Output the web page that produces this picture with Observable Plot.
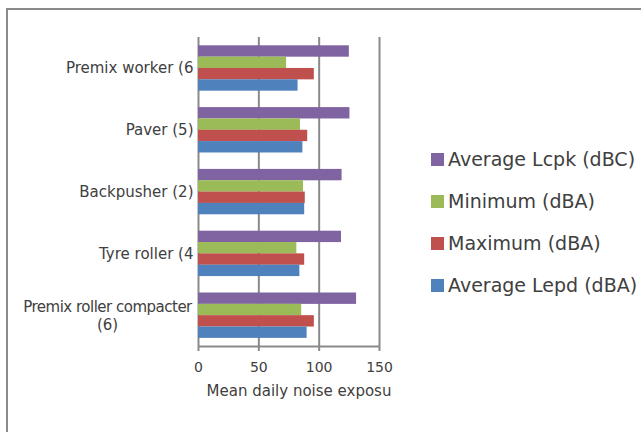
<!DOCTYPE html>
<html>
<head>
<meta charset="utf-8">
<script src="https://cdn.jsdelivr.net/npm/d3@7"></script>
<script src="https://cdn.jsdelivr.net/npm/@observablehq/plot@0.6"></script>
<style>
  html, body { margin: 0; padding: 0; background: #fff; }
  #wrap { position: relative; width: 641px; height: 432px; overflow: hidden; font-family: "DejaVu Sans", sans-serif; color: #404040; }
  #frame { position: absolute; left: 6px; top: 8px; width: 700px; height: 500px; border-left: 2px solid #8a8a8a; border-top: 2px solid #8a8a8a; box-sizing: border-box; }
  #chart { position: absolute; left: 0; top: 0; }
  #legend { position: absolute; left: 431px; top: 0; width: 209px; height: 432px; }
  .item { position: absolute; left: 0; display: flex; align-items: center; white-space: nowrap; font-size: 19px; color: #404040; height: 26px; }
  .sw { width: 13px; height: 13px; margin-right: 4px; flex: none; }
</style>
</head>
<body>
<div id="wrap">
  <div id="frame"></div>
  <div id="chart"></div>
  <div id="legend"></div>
</div>
<script>
const categories = ["Premix worker (6", "Paver (5)", "Backpusher (2)", "Tyre roller (4", "Premix roller compacter\n(6)"];
const seriesNames = ["Average Lcpk (dBC)", "Minimum (dBA)", "Maximum (dBA)", "Average Lepd (dBA)"];
const lcpk    = [125, 125.5, 119, 118.5, 131];
const minimum = [73, 84.5, 87, 81.5, 85.5];
const maximum = [96, 90.5, 88.5, 88, 96];
const lepd    = [82.5, 86.5, 88, 84, 90];
const colors  = ["#8064A2", "#9BBB59", "#C0504D", "#4F81BD"];
const xTicks  = [0, 50, 100, 150];
const xLabel  = "Mean daily noise exposu";

const seriesValues = [lcpk, minimum, maximum, lepd];
const bandH = (346 - 37.3) / categories.length;
const barH = 11.33;
const topGap = 8.3;

const barMarks = seriesValues.map((vals, i) =>
  Plot.barX(categories.map((c, j) => ({category: c, value: vals[j], series: seriesNames[i]})), {
    x: "value", y: "category", fill: colors[i],
    insetTop: topGap + i * barH,
    insetBottom: bandH - topGap - (i + 1) * barH
  })
);

const single = categories.slice(0, categories.length - 1);
const wrapped = categories.slice(categories.length - 1);

const chart = Plot.plot({
  width: 400, height: 406,
  marginLeft: 198, marginRight: 21, marginTop: 37, marginBottom: 60,
  style: {background: "transparent", fontFamily: "DejaVu Sans, sans-serif", color: "#404040"},
  x: {domain: [0, 150], ticks: xTicks},
  y: {domain: categories, padding: 0, round: false},
  marks: [
    Plot.gridX(xTicks, {stroke: "#8a8a8a", strokeOpacity: 1, strokeWidth: 2}),
    ...barMarks,
    Plot.ruleY([categories[categories.length - 1]], {stroke: "#8a8a8a", strokeWidth: 2, dy: bandH / 2}),
    Plot.axisX({ticks: xTicks, tickSize: 5, tickPadding: 11, stroke: "#8a8a8a", strokeWidth: 2, fontSize: 14, fill: "#404040", label: null}),
    Plot.text([xLabel], {frameAnchor: "bottom", dx: 10, dy: 49, fontSize: 15, fill: "#404040"}),
    Plot.axisY({ticks: single, tickSize: 0, tickPadding: 5, fontSize: 15, fill: "#404040", label: null}),
    Plot.axisY({ticks: wrapped, tickSize: 0, tickPadding: 0, dx: -91, textAnchor: "middle", lineHeight: 1.2, fontSize: 15, fill: "#404040", label: null})
  ]
});
document.getElementById("chart").appendChild(chart);

// tighten the long wrapped label like the reference
chart.querySelectorAll("text").forEach(t => {
  if (t.textContent.includes("compacter")) {
    t.querySelectorAll("tspan").forEach(ts => { if (ts.textContent.includes("compacter")) ts.setAttribute("letter-spacing", "-0.5"); });
  }
});

const legend = document.getElementById("legend");
seriesNames.forEach((name, i) => {
  const item = document.createElement("div");
  item.className = "item";
  item.style.top = (159.3 + 42 * i - 13) + "px";
  const sw = document.createElement("span");
  sw.className = "sw";
  sw.style.background = colors[i];
  const tx = document.createElement("span");
  tx.textContent = name;
  item.appendChild(sw);
  item.appendChild(tx);
  legend.appendChild(item);
});
</script>
</body>
</html>
